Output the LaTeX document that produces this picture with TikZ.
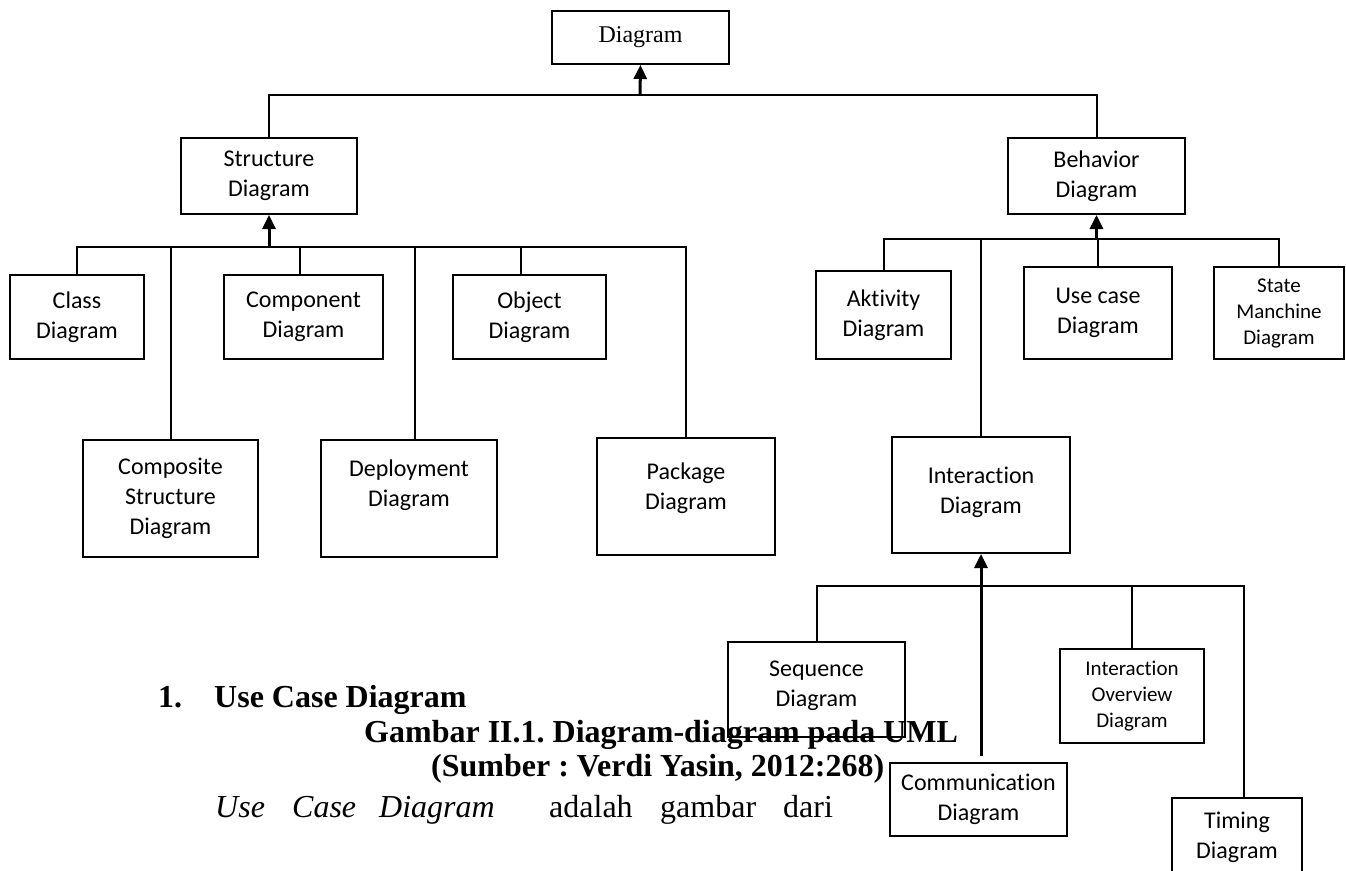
\documentclass[tikz,border=0pt]{standalone}
\usepackage{fontspec}
\setmainfont{Liberation Serif}
\newfontfamily\boxfont[Ligatures=NoCommon]{Carlito}
\usetikzlibrary{arrows.meta}
\frenchspacing
\tikzset{
    box/.style={draw, line width=2pt, align=center, inner sep=0pt,
        font=\boxfont\fontsize{24}{30}\selectfont},
    smallbox/.style={box, font=\boxfont\fontsize{21}{26}\selectfont},
    wh/.style 2 args={minimum width=#1pt, minimum height=#2pt},
    link/.style={line width=2pt},
    uparrow/.style={line width=3pt, -{Triangle[width=13pt,length=14pt]}},
    caption/.style={anchor=base west, inner sep=0pt,
        font=\fontsize{32}{38}\selectfont\bfseries},
    bodytext/.style={anchor=base west, inner sep=0pt,
        font=\fontsize{32}{38}\selectfont}
}

\begin{document}
\begin{tikzpicture}[x=1pt, y=-1pt]
        \useasboundingbox (0,0) rectangle (1346,870);
        % root
        \node[box, wh={177}{53}, font=\fontsize{24}{30}\selectfont] (diagram) at (640.5,37.5) {\raisebox{-3pt}{Diagram}};
        \node[box, wh={176}{76}] (structure) at (269,176) {Structure\\Diagram};
        \node[box, wh={177}{76}] (behavior) at (1096.5,176) {Behavior\\Diagram};
        \coordinate (topbus) at (640,95);
        \draw[uparrow] (topbus) -- (diagram.south);
        \draw[link] (structure.north) |- (topbus) -| (behavior.north);
        % structure diagrams
        \node[box, wh={134}{84}] (class) at (77,317) {Class\\Diagram};
        \node[box, wh={159}{84}] (component) at (303.5,317) {Component\\Diagram};
        \node[box, wh={153}{84}] (object) at (529.5,317) {Object\\Diagram};
        \node[box, wh={175}{117}] (composite) at (170.5,498.5) {Composite\\Structure\\Diagram};
        \node[box, wh={176}{117}] (deployment) at (409,498.5) {Deployment\\Diagram\\~};
        \node[box, wh={178}{117}] (package) at (686,496.5) {Package\\Diagram\\[-10pt]~};
        \coordinate (sbus) at (269,247);
        \draw[uparrow] (sbus) -- (structure.south);
        \draw[link] (class.north) |- (sbus) -| (package.north);
        \draw[link] (composite.north) -- (composite.north |- sbus);
        \draw[link] ([xshift=-4pt]component.north) -- ([xshift=-4pt]component.north |- sbus);
        \draw[link] ([xshift=6pt]deployment.north) -- ([xshift=6pt]deployment.north |- sbus);
        \draw[link] ([xshift=-9pt]object.north) -- ([xshift=-9pt]object.north |- sbus);
        % behavior diagrams
        \node[box, wh={135}{88}] (aktivity) at (883.5,315) {Aktivity\\Diagram};
        \node[box, wh={148}{92}] (usecase) at (1098,313) {Use case\\Diagram};
        \node[smallbox, wh={130}{92}] (state) at (1279,313) {State\\Manchine\\Diagram};
        \node[box, wh={178}{116}] (interaction) at (981,495) {Interaction\\Diagram\\[-20pt]~};
        \coordinate (bbus) at (1096.5,239);
        \draw[uparrow] (bbus) -- (behavior.south);
        \draw[link] (aktivity.north) |- (bbus) -| (state.north);
        \draw[link] (usecase.north) -- (usecase.north |- bbus);
        \draw[link] (interaction.north) -- (interaction.north |- bbus);
        % interaction diagrams
        \node[box, wh={177}{95}] (sequence) at (816.5,689.5) {Sequence\\Diagram\\[-18pt]~};
        \node[smallbox, wh={144}{94}] (overview) at (1132,696) {Interaction\\Overview\\Diagram};
        \node[box, wh={177}{73}] (communication) at (978.5,799.5) {Communication\\Diagram};
        \node[box, wh={130}{78}] (timing) at (1237,837) {Timing\\Diagram};
        \coordinate (ibus) at (981,586);
        \draw[link] (sequence.north) |- (ibus) -| ([xshift=7pt]timing.north);
        \draw[link] (overview.north) -- (overview.north |- ibus);
        \draw[uparrow] ([yshift=6pt]communication.north -| interaction.south) -- (interaction.south);
        % text of the page
        \node[caption] (heading) at (158,707) {1.\hspace{32pt}Use Case Diagram};
        \node[caption] (figtitle) at (364,742) {Gambar II.1. Diagram-diagram pada UML};
        \node[caption] (figsource) at (431,776) {(Sumber : Verdi Yasin, 2012:268)};
        \node[bodytext, font=\fontsize{32}{38}\selectfont\itshape] (w1) at (215,817) {Use};
        \node[bodytext, font=\fontsize{32}{38}\selectfont\itshape] (w2) at (292,817) {Case};
        \node[bodytext, font=\fontsize{32}{38}\selectfont\itshape] (w3) at (379,817) {Diagram};
        \node[bodytext] (w4) at (549,817) {adalah};
        \node[bodytext] (w5) at (660,817) {gambar};
        \node[bodytext] (w6) at (783,817) {dari};
\end{tikzpicture}
\end{document}
